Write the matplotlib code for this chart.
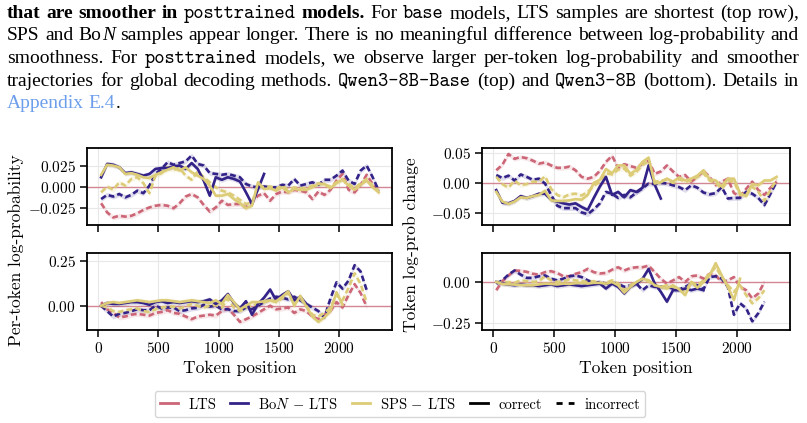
import numpy as np
import matplotlib
matplotlib.use("Agg")
import matplotlib.pyplot as plt
from matplotlib.lines import Line2D

# token positions (bin centres)
x_top = np.arange(25, 2326, 50)
x_bot = np.arange(25, 2226, 50)

# top-left: per-token log-prob, Qwen3-8B-Base
tl_lts_inc = [-0.019, -0.030, -0.036, -0.034, -0.035, -0.034, -0.031, -0.027, -0.024, -0.022,
              -0.021, -0.022, -0.025, -0.019, -0.011, -0.008, -0.012, -0.021, -0.029, -0.024,
              -0.016, -0.021, -0.020, -0.020, -0.024, -0.017, -0.010, -0.007, -0.016, -0.008,
              -0.005, -0.006, -0.003, -0.004, -0.006, -0.014, -0.005, -0.009, -0.003, 0.008,
              0.016, -0.003, -0.006, 0.003, 0.015, 0.004, -0.006]
tl_bon_cor = [0.012, 0.028, 0.027, 0.024, 0.017, 0.018, 0.016, 0.014, 0.016, 0.022,
              0.023, 0.023, 0.025, 0.026, 0.022, 0.029, 0.022, 0.008, -0.010, 0.012,
              0.009, 0.012, 0.010, 0.007, -0.006, -0.020, -0.002, 0.016]
tl_bon_inc = [-0.014, -0.009, -0.011, -0.008, -0.012, -0.009, -0.004, -0.007, 0.002, 0.016,
              0.022, 0.030, 0.027, 0.029, 0.031, 0.038, 0.028, 0.026, 0.017, 0.016,
              0.015, 0.016, 0.014, 0.012, 0.004, 0.001, 0.000, 0.001, 0.000, 0.000,
              0.003, 0.002, 0.010, 0.002, 0.004, 0.006, 0.003, 0.009, 0.009, 0.014,
              0.020, 0.008, 0.004, 0.020, 0.026, 0.012, -0.004]
tl_sps_cor = [0.015, 0.027, 0.026, 0.024, 0.016, 0.017, 0.015, 0.012, 0.011, 0.015,
              0.018, 0.021, 0.024, 0.020, 0.024, 0.018, 0.014, 0.010, 0.002, -0.010,
              -0.010, -0.008, -0.014, -0.019, -0.025, -0.022, 0.006, -0.002, -0.001, -0.004,
              0.000, -0.006, -0.002, -0.003, -0.003, 0.000, 0.004, 0.004, -0.001, 0.005,
              0.009, 0.002, -0.003, 0.003, 0.008, 0.000, -0.006]
tl_sps_inc = [-0.006, 0.001, -0.003, 0.006, 0.002, 0.010, 0.012, 0.005, -0.007, 0.014,
              0.017, 0.024, 0.021, 0.023, 0.014, 0.009, 0.019, 0.012, 0.006, 0.000,
              -0.004, -0.006, -0.010, -0.015, -0.020, -0.018, 0.002, 0.000, 0.001, -0.002,
              0.002, -0.003, 0.000, -0.001, -0.001, 0.002, 0.005, 0.003, 0.001, 0.006,
              0.010, 0.004, -0.001, 0.005, 0.010, 0.002, -0.004]

# top-right: token log-prob change, Qwen3-8B-Base
tr_lts_inc = [0.021, 0.030, 0.048, 0.040, 0.043, 0.041, 0.037, 0.032, 0.034, 0.029,
              0.025, 0.025, 0.027, 0.021, 0.010, 0.007, 0.010, 0.020, 0.035, 0.045,
              0.025, 0.031, 0.028, 0.025, 0.032, 0.037, 0.015, 0.019, 0.029, 0.019,
              0.010, 0.013, 0.002, 0.010, 0.020, 0.010, -0.004, 0.002, 0.007, -0.017,
              -0.022, -0.010, 0.002, -0.012, -0.020, -0.008, 0.002]
tr_bon_cor = [-0.012, -0.033, -0.034, -0.030, -0.022, -0.025, -0.022, -0.018, -0.018, -0.028,
              -0.031, -0.034, -0.036, -0.034, -0.040, -0.045, -0.025, -0.006, 0.010, -0.020,
              -0.015, -0.024, -0.012, -0.015, -0.008, 0.029, -0.003, -0.026]
tr_bon_inc = [0.013, 0.008, 0.012, 0.004, 0.014, 0.010, 0.005, 0.007, -0.001, -0.020,
              -0.038, -0.042, -0.042, -0.042, -0.049, -0.052, -0.044, -0.034, -0.015, -0.018,
              -0.025, -0.020, -0.024, -0.016, -0.009, -0.001, -0.002, 0.000, -0.001, -0.004,
              -0.007, -0.012, -0.004, -0.008, -0.016, -0.019, -0.017, -0.007, -0.026, -0.025,
              -0.025, -0.015, -0.018, -0.025, -0.037, -0.018, 0.002]
tr_sps_cor = [-0.015, -0.031, -0.035, -0.031, -0.024, -0.025, -0.022, -0.020, -0.013, -0.029,
              -0.030, -0.030, -0.029, -0.027, -0.028, -0.020, 0.000, 0.005, 0.023, 0.016,
              0.029, 0.029, 0.015, 0.022, 0.035, 0.042, -0.001, 0.001, 0.007, 0.002,
              0.009, 0.004, 0.007, 0.012, 0.021, 0.006, 0.004, -0.006, 0.007, 0.007,
              -0.017, -0.022, -0.002, -0.004, 0.004, 0.004, 0.010]
tr_sps_inc = [0.010, -0.002, -0.008, 0.004, -0.004, -0.002, 0.002, 0.002, 0.011, -0.010,
              -0.020, -0.024, -0.019, -0.018, -0.021, -0.015, -0.005, 0.002, 0.016, 0.014,
              0.022, 0.024, 0.012, 0.018, 0.030, 0.036, 0.002, 0.003, 0.006, 0.000,
              0.006, 0.002, 0.004, 0.010, 0.016, 0.004, 0.000, -0.010, 0.003, 0.002,
              -0.020, -0.020, -0.006, -0.015, -0.030, -0.012, 0.006]

# bottom-left: per-token log-prob, Qwen3-8B
bl_lts_inc = [0.020, -0.020, -0.040, -0.065, -0.060, -0.050, -0.045, -0.050, -0.055, -0.040,
              -0.035, -0.025, -0.040, -0.045, -0.060, -0.075, -0.060, -0.055, -0.050, -0.055,
              -0.030, -0.015, -0.050, -0.090, -0.075, -0.060, -0.040, -0.020, 0.000, -0.020,
              -0.015, -0.010, -0.040, -0.020, -0.030, -0.060, -0.075, -0.050, -0.030, 0.020,
              -0.010, 0.060, 0.120, 0.070, -0.005]
bl_bon_cor = [0.000, 0.015, 0.010, 0.010, 0.015, 0.020, 0.020, 0.015, 0.005, 0.020,
              0.025, 0.015, 0.020, 0.015, 0.020, 0.025, 0.020, 0.025, 0.035, 0.010,
              0.030, 0.065, 0.015, -0.015, 0.025, -0.050, 0.010, 0.045, 0.090, 0.030,
              0.060, 0.080, 0.030, 0.050, 0.010]
bl_bon_inc = [0.000, -0.030, -0.060, -0.045, -0.040, -0.030, -0.020, -0.025, -0.025, 0.000,
              -0.015, -0.010, -0.010, -0.030, -0.025, -0.015, -0.012, 0.005, -0.005, 0.000,
              -0.020, -0.020, -0.030, -0.030, -0.010, -0.020, 0.000, 0.020, 0.040, 0.050,
              0.045, 0.035, 0.050, 0.030, 0.010, -0.010, -0.030, -0.065, 0.040, 0.130,
              0.095, 0.140, 0.225, 0.190, 0.087]
bl_sps_cor = [0.000, 0.015, 0.020, 0.015, 0.020, 0.025, 0.030, 0.025, 0.020, 0.025,
              0.030, 0.030, 0.025, 0.020, 0.025, 0.030, 0.025, 0.020, 0.015, 0.030,
              0.010, 0.060, 0.020, -0.020, 0.000, 0.020, 0.020, 0.025, 0.030, 0.025,
              0.050, 0.080, 0.000, 0.055, -0.005, -0.060, -0.090, -0.065, -0.030, 0.075,
              0.005]
bl_sps_inc = [0.000, -0.010, -0.030, -0.035, -0.025, -0.020, -0.015, -0.030, -0.035, -0.020,
              -0.010, -0.005, -0.005, -0.015, -0.005, 0.010, 0.000, -0.010, 0.000, 0.005,
              -0.010, 0.040, -0.010, -0.030, -0.010, 0.000, 0.010, 0.020, 0.030, 0.020,
              0.040, 0.070, 0.030, 0.040, 0.000, -0.050, -0.060, -0.040, -0.010, 0.060,
              0.030, 0.100, 0.180, 0.120, 0.020]

# bottom-right: token log-prob change, Qwen3-8B
br_lts_inc = [-0.050, 0.005, 0.040, 0.070, 0.068, 0.062, 0.050, 0.045, 0.060, 0.066,
              0.055, 0.035, 0.035, 0.050, 0.060, 0.080, 0.060, 0.052, 0.055, 0.075,
              0.090, 0.070, 0.085, 0.090, 0.090, 0.100, 0.060, 0.020, -0.010, 0.010,
              0.030, 0.000, 0.035, 0.040, 0.020, 0.050, 0.040, 0.000, 0.010, 0.030,
              -0.030, -0.050, -0.100, -0.070, 0.000]
br_bon_cor = [0.000, -0.010, -0.015, -0.020, -0.015, -0.020, -0.020, -0.025, -0.020, -0.015,
              -0.025, -0.020, -0.015, -0.020, -0.025, -0.020, -0.015, -0.010, -0.040, -0.010,
              -0.030, -0.070, -0.030, -0.010, 0.020, 0.080, -0.010, -0.060, -0.120, -0.050,
              -0.050, -0.040, -0.050, -0.040, -0.050]
br_bon_inc = [-0.010, 0.010, 0.045, 0.070, 0.045, 0.025, 0.025, 0.035, 0.040, 0.020,
              0.010, 0.020, 0.035, 0.040, 0.030, 0.010, -0.005, 0.000, -0.010, -0.005,
              -0.010, -0.030, -0.020, -0.010, -0.050, -0.020, -0.030, -0.030, -0.030, -0.040,
              -0.045, -0.030, -0.010, -0.020, -0.045, 0.030, 0.035, 0.020, -0.030, -0.200,
              -0.130, -0.160, -0.240, -0.190, -0.120]
br_sps_cor = [0.000, -0.012, -0.014, -0.016, -0.018, -0.020, -0.020, -0.015, -0.010, -0.012,
              -0.015, -0.010, -0.012, -0.008, -0.005, -0.010, -0.005, -0.005, -0.010, 0.000,
              -0.020, -0.065, -0.030, 0.000, 0.020, 0.010, -0.020, -0.030, -0.040, -0.020,
              -0.045, -0.080, 0.000, -0.035, 0.000, 0.040, 0.115, 0.040, -0.030, -0.110,
              0.020]
br_sps_inc = [0.000, -0.005, 0.000, -0.005, 0.010, 0.005, 0.000, 0.005, 0.035, 0.010,
              0.000, 0.005, 0.015, 0.010, 0.005, 0.000, 0.005, -0.010, -0.005, 0.010,
              -0.010, -0.050, -0.020, 0.000, 0.010, 0.005, -0.020, -0.030, -0.020, -0.030,
              -0.040, -0.060, 0.000, -0.020, 0.010, 0.050, 0.090, 0.030, -0.020, -0.060,
              -0.020, -0.080, -0.130, -0.100, -0.050]

# half-width of the shaded bands, per panel
band_tl, band_tr, band_bl, band_br = 0.003, 0.004, 0.014, 0.014

yticks_tl = [-0.025, 0.0, 0.025]
yticks_tr = [-0.05, 0.0, 0.05]
yticks_bl = [0.0, 0.25]
yticks_br = [-0.25, 0.0]
xticks = [0, 500, 1000, 1500, 2000]

C_LTS, C_BON, C_SPS = "#CC6677", "#332288", "#DDCC77"

plt.rcParams["font.family"] = "serif"
plt.rcParams["font.serif"] = ["cmr10"]
plt.rcParams["mathtext.fontset"] = "cm"
plt.rcParams["axes.formatter.use_mathtext"] = True
plt.rcParams["axes.unicode_minus"] = True

W, H = 807, 423
fig = plt.figure(figsize=(W / 100, H / 100), dpi=100)

DASH = (0, (2.2, 1.2))


def px_axes(l, t, r, b):
    return fig.add_axes([l / W, 1 - b / H, (r - l) / W, (b - t) / H])


def panel(ax, x, lts_inc, bon_cor, bon_inc, sps_cor, sps_inc, band, ylim, yticks, bottom):
    ax.axhline(0, color=C_LTS, lw=1.0, alpha=0.75, zorder=2)
    order = [(lts_inc, C_LTS, DASH), (bon_inc, C_BON, DASH), (sps_inc, C_SPS, DASH),
             (bon_cor, C_BON, "-"), (sps_cor, C_SPS, "-")]
    for k, (y, c, ls) in enumerate(order):
        y = np.asarray(y)
        xx = x[:len(y)]
        ax.fill_between(xx, y - band, y + band, color=c, alpha=0.15, lw=0, zorder=3)
        ax.plot(xx, y, color=c, ls=ls, lw=1.9, zorder=4 + k)
    ax.set_xlim(-92, 2435)
    ax.set_ylim(*ylim)
    ax.set_xticks(xticks)
    ax.set_yticks(yticks)
    ax.grid(True, color="#e8e8e8", lw=0.8, zorder=0)
    ax.set_axisbelow(True)
    for s in ax.spines.values():
        s.set_linewidth(1.3)
    ax.tick_params(labelsize=11, length=5, width=1.1, pad=3)
    if bottom:
        ax.set_xlabel("Token position", fontsize=12.5, labelpad=3)
    else:
        ax.tick_params(labelbottom=False)


ax_tl = px_axes(87, 148, 392, 225)
ax_bl = px_axes(87, 253, 392, 330)
ax_tr = px_axes(482, 148, 790, 225)
ax_br = px_axes(482, 253, 790, 330)

panel(ax_tl, x_top, tl_lts_inc, tl_bon_cor, tl_bon_inc, tl_sps_cor, tl_sps_inc,
      band_tl, (-0.045, 0.047), yticks_tl, False)
panel(ax_tr, x_top, tr_lts_inc, tr_bon_cor, tr_bon_inc, tr_sps_cor, tr_sps_inc,
      band_tr, (-0.070, 0.058), yticks_tr, False)
panel(ax_bl, x_bot, bl_lts_inc, bl_bon_cor, bl_bon_inc, bl_sps_cor, bl_sps_inc,
      band_bl, (-0.135, 0.293), yticks_bl, True)
panel(ax_br, x_bot, br_lts_inc, br_bon_cor, br_bon_inc, br_sps_cor, br_sps_inc,
      band_br, (-0.293, 0.177), yticks_br, True)

fig.text(16 / W, 1 - 250 / H, "Per-token log-probability", rotation=90,
         ha="center", va="center", fontsize=12.5)
fig.text(411 / W, 1 - 245 / H, "Token log-prob change", rotation=90,
         ha="center", va="center", fontsize=12.5)

handles = [Line2D([], [], color=C_LTS, lw=2),
           Line2D([], [], color=C_BON, lw=2),
           Line2D([], [], color=C_SPS, lw=2),
           Line2D([], [], color="black", lw=2),
           Line2D([], [], color="black", lw=2, ls=(0, (2.2, 2.2)))]
labels = ["LTS", r"Bo$N$ $-$ LTS", r"SPS $-$ LTS", "correct", "incorrect"]
fig.legend(handles, labels, loc="center", bbox_to_anchor=(400 / W, 1 - 404 / H),
           ncol=5, fontsize=10.5, frameon=True, edgecolor="#cccccc", fancybox=True,
           handlelength=1.25, columnspacing=0.95, handletextpad=0.7, borderpad=0.35,
           borderaxespad=0)

# caption text above the figure (justified, mixed fonts)
FS = 14
styles = {
    "rm": dict(family="Liberation Serif", fontsize=FS, color="black"),
    "bf": dict(family="Liberation Serif", fontsize=FS, fontweight="bold", color="black"),
    "it": dict(family="Liberation Serif", fontsize=FS, style="italic", color="black"),
    "tt": dict(family="cmtt10", fontsize=FS, color="black"),
    "ln": dict(family="Liberation Serif", fontsize=FS, color="#6d9eeb"),
}
caption = [
    [("that are smoother in ", "bf"), ("posttrained", "tt"), (" models.", "bf"), (" For ", "rm"),
     ("base", "tt"), (" models, LTS samples are shortest (top row),", "rm")],
    [("SPS and Bo", "rm"), ("N", "it"),
     (" samples appear longer. There is no meaningful difference between log-probability and", "rm")],
    [("smoothness. For ", "rm"), ("posttrained", "tt"),
     (" models, we observe larger per-token log-probability and smoother", "rm")],
    [("trajectories for global decoding methods. ", "rm"), ("Qwen3-8B-Base", "tt"),
     (" (top) and ", "rm"), ("Qwen3-8B", "tt"), (" (bottom). Details in", "rm")],
    [("Appendix E.4", "ln"), (".", "rm")],
]
cap_left, cap_right = 7, 799
baselines = [18, 40.5, 63, 85.5, 108]

renderer = fig.canvas.get_renderer()


def text_width(txt, sty):
    t = fig.text(0, 0, txt, **styles[sty])
    w = t.get_window_extent(renderer).width
    t.remove()
    return w


for i, segs in enumerate(caption):
    words = [[]]
    for txt, sty in segs:
        parts = txt.split(" ")
        for j, p in enumerate(parts):
            if j > 0:
                words.append([])
            if p:
                words[-1].append((p, sty))
    words = [w for w in words if w]
    widths = [sum(text_width(p, s) for p, s in w) for w in words]
    last = i == len(caption) - 1
    if last or len(words) < 2:
        gap = text_width("a b", "rm") - text_width("ab", "rm")
    else:
        gap = (cap_right - cap_left - sum(widths)) / (len(words) - 1)
    xpos = cap_left
    for w, wd in zip(words, widths):
        xx = xpos
        for p, s in w:
            fig.text(xx / W, 1 - baselines[i] / H, p, ha="left", va="baseline", **styles[s])
            xx += text_width(p, s)
        xpos += wd + gap

fig.savefig("out.png", dpi=100)
